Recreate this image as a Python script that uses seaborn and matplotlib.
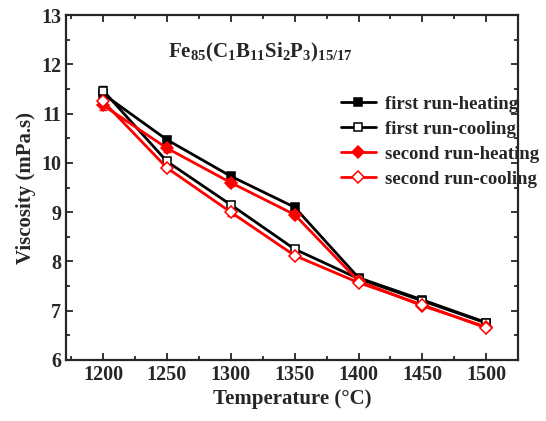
import numpy as np
import pandas as pd
import matplotlib
matplotlib.use("Agg")
import matplotlib.pyplot as plt
import seaborn as sns
from matplotlib.ticker import MultipleLocator

sns.set_theme(style="ticks")
plt.rcParams['font.family'] = ['Liberation Serif', 'DejaVu Serif']
plt.rcParams['font.weight'] = 'bold'
plt.rcParams['mathtext.fontset'] = 'custom'
plt.rcParams['mathtext.rm'] = 'Liberation Serif:bold'
plt.rcParams['mathtext.it'] = 'Liberation Serif:bold'
plt.rcParams['mathtext.bf'] = 'Liberation Serif:bold'

temperature = [1200, 1250, 1300, 1350, 1400, 1450, 1500]
first_heating = [11.40, 10.47, 9.73, 9.10, 7.67, 7.22, 6.76]
first_cooling = [11.47, 10.03, 9.15, 8.25, 7.65, 7.20, 6.75]
second_heating = [11.17, 10.30, 9.60, 8.95, 7.60, 7.10, 6.67]
second_cooling = [11.25, 9.90, 9.00, 8.12, 7.57, 7.12, 6.65]
errors = [0.10, 0.07, 0.07, 0.06, 0.05, 0.05, 0.05]
labels = ["first run-heating", "first run-cooling", "second run-heating", "second run-cooling"]

fig = plt.figure(figsize=(5.46, 4.21), dpi=100)
ax = fig.add_axes([0.121, 0.145, 0.828, 0.819])

series = [
    (first_heating, labels[0], 'black', 's', 'black'),
    (first_cooling, labels[1], 'black', 's', 'white'),
    (second_heating, labels[2], 'red', 'D', 'red'),
    (second_cooling, labels[3], 'red', 'D', 'white'),
]
for vals, lab, col, mk, fc in series:
    df = pd.DataFrame({'T': temperature, 'V': vals})
    ax.errorbar(temperature, vals, yerr=errors, fmt='none', ecolor=col, elinewidth=1, capsize=3, zorder=2)
    sns.lineplot(data=df, x='T', y='V', ax=ax, color=col, marker=mk, markersize=5.5 if mk == 's' else 6,
                 markerfacecolor=fc, markeredgecolor=col, markeredgewidth=1.1, linewidth=2.0,
                 label=lab, zorder=3)

ax.set_xlim(1171, 1525)
ax.set_ylim(6, 13)
ax.xaxis.set_major_locator(MultipleLocator(50))
ax.xaxis.set_minor_locator(MultipleLocator(25))
ax.yaxis.set_major_locator(MultipleLocator(1))
ax.yaxis.set_minor_locator(MultipleLocator(0.5))
ax.tick_params(which='both', direction='in', top=True, right=True, labelsize=14.5, width=1.3)
ax.tick_params(which='major', length=5)
ax.tick_params(which='minor', length=3)
for lbl in ax.get_xticklabels() + ax.get_yticklabels():
    lbl.set_fontweight('bold')
for sp in ax.spines.values():
    sp.set_linewidth(1.6)
ax.set_xlabel('Temperature (°C)', fontsize=15, fontweight='bold', labelpad=3)
ax.set_ylabel('Viscosity (mPa.s)', fontsize=15, fontweight='bold')

ax.text(1251, 12.15, r'Fe$_{85}$(C$_{1}$B$_{11}$Si$_{2}$P$_{3}$)$_{15/17}$', fontsize=15, fontweight='bold')

leg = ax.legend(loc='upper right', bbox_to_anchor=(1.083, 0.815), frameon=False,
                handlelength=1.9, labelspacing=0.42, handletextpad=0.45,
                prop={'weight': 'bold', 'size': 13.5})

fig.savefig('out.png', dpi=100)
